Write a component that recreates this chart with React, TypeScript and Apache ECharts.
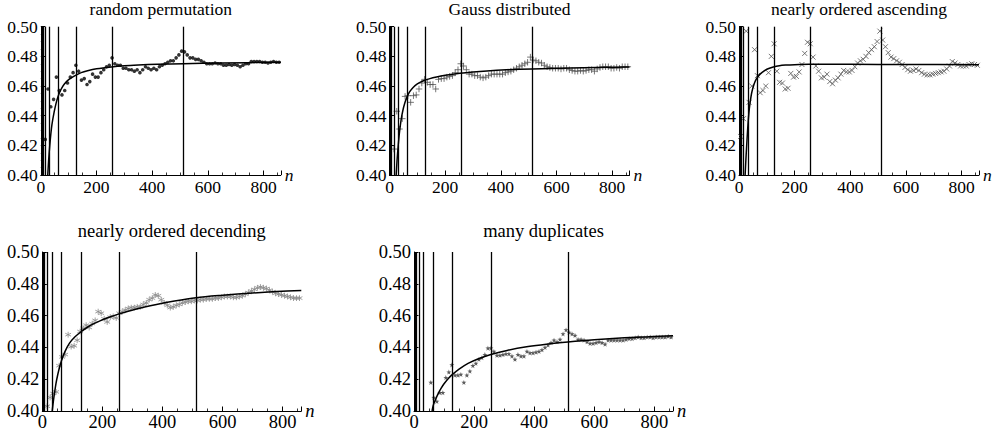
import React, { useEffect, useRef } from "react";
import * as echarts from "echarts";

// sample sizes n at which each sort was measured
const sampleN = [
  6, 16, 26, 36, 46, 56, 66, 76, 86, 96, 106, 116, 126, 136, 146, 156, 166, 176, 186, 196,
  206, 216, 226, 236, 246, 256, 266, 276, 286, 296, 306, 316, 326, 336, 346, 356, 366, 376, 386, 396,
  406, 416, 426, 436, 446, 456, 466, 476, 486, 496, 506, 516, 526, 536, 546, 556, 566, 576, 586, 596,
  606, 616, 626, 636, 646, 656, 666, 676, 686, 696, 706, 716, 726, 736, 746, 756, 766, 776, 786, 796,
  806, 816, 826, 836, 846, 856,
];

const randomPermutation = [
  null, 0.424, 0.458, 0.446, 0.451, 0.466, 0.457, 0.454, 0.457, 0.462,
  0.466, 0.469, 0.474, 0.47, 0.464, 0.465, 0.461, 0.463, 0.468, 0.466,
  0.466, 0.469, 0.471, 0.473, 0.474, 0.479, 0.475, 0.474, 0.474, 0.472,
  0.472, 0.471, 0.471, 0.47, 0.471, 0.469, 0.471, 0.473, 0.472, 0.471,
  0.472, 0.471, 0.473, 0.474, 0.475, 0.476, 0.477, 0.477, 0.479, 0.481,
  0.4835, 0.483, 0.481, 0.479, 0.479, 0.478, 0.478, 0.477, 0.476, 0.475,
  0.475, 0.475, 0.4755, 0.475, 0.475, 0.474, 0.474, 0.4745, 0.474, 0.4745,
  0.474, 0.473, 0.474, 0.475, 0.475, 0.4765, 0.4765, 0.4765, 0.4765, 0.476,
  0.476, 0.4755, 0.476, 0.4765, 0.476, 0.476,
];

const gaussDistributed = [
  null, 0.4175, 0.443, 0.431, 0.438, 0.453, 0.4535, 0.449, 0.4535, 0.454,
  0.458, 0.462, 0.4645, 0.4625, 0.461, 0.461, 0.458, 0.4645, 0.465, 0.465,
  0.466, 0.4665, 0.467, 0.469, 0.471, 0.475, 0.4735, 0.471, 0.468, 0.468,
  0.467, 0.467, 0.466, 0.4655, 0.466, 0.467, 0.468, 0.468, 0.468, 0.468,
  0.468, 0.469, 0.4695, 0.47, 0.471, 0.472, 0.473, 0.474, 0.475, 0.476,
  0.4795, 0.4775, 0.477, 0.476, 0.4755, 0.474, 0.473, 0.4725, 0.472, 0.472,
  0.472, 0.4715, 0.472, 0.472, 0.471, 0.4705, 0.47, 0.47, 0.4705, 0.47,
  0.4705, 0.471, 0.471, 0.47, 0.4715, 0.4725, 0.473, 0.473, 0.473, 0.472,
  0.472, 0.4725, 0.472, 0.473, 0.473, 0.473,
];

const nearlyAscending = [
  0.426, 0.438, 0.497, 0.449, 0.46, 0.4845, 0.467, 0.4555, 0.457, 0.46,
  0.469, 0.48, 0.4885, 0.47, 0.4625, 0.462, 0.458, 0.4585, 0.4685, 0.466,
  0.4665, 0.4695, 0.4745, 0.482, 0.4895, 0.4885, 0.4795, 0.4735, 0.47, 0.4655,
  0.466, 0.468, 0.463, 0.4615, 0.464, 0.4655, 0.468, 0.4705, 0.4695, 0.4695,
  0.4705, 0.473, 0.4755, 0.477, 0.478, 0.48, 0.4825, 0.4845, 0.4865, 0.49,
  0.497, 0.491, 0.4865, 0.4825, 0.4795, 0.4785, 0.477, 0.476, 0.4745, 0.4725,
  0.471, 0.47, 0.4705, 0.4715, 0.4705, 0.469, 0.468, 0.4675, 0.4675, 0.468,
  0.4685, 0.469, 0.4695, 0.47, 0.4715, 0.4735, 0.4765, 0.4755, 0.4745, 0.4735,
  0.4735, 0.4735, 0.4745, 0.475, 0.4745, 0.474,
];

const nearlyDescending = [
  null, 0.403, 0.4085, 0.411, 0.412, 0.4285, 0.434, 0.4355, 0.448, 0.4405,
  0.441, 0.4445, 0.45, 0.452, 0.454, 0.4525, 0.455, 0.457, 0.4625, 0.4615,
  0.458, 0.456, 0.459, 0.4595, 0.4585, 0.4615, 0.4625, 0.4635, 0.4645, 0.465,
  0.465, 0.4655, 0.4655, 0.467, 0.468, 0.47, 0.471, 0.473, 0.4725, 0.47,
  0.468, 0.4665, 0.465, 0.4655, 0.4665, 0.467, 0.468, 0.4685, 0.469, 0.469,
  0.4695, 0.4695, 0.47, 0.47, 0.4705, 0.4705, 0.4705, 0.471, 0.471, 0.4715,
  0.472, 0.472, 0.472, 0.4715, 0.4715, 0.472, 0.4725, 0.4735, 0.4745, 0.4755,
  0.4765, 0.4775, 0.478, 0.4775, 0.477, 0.476, 0.475, 0.474, 0.4735, 0.473,
  0.4725, 0.472, 0.4715, 0.471, 0.471, 0.471,
];

const manyDuplicates = [
  null, null, null, null, null, 0.418, 0.4085, 0.406, 0.4115, 0.4115,
  0.421, 0.4245, 0.429, 0.4225, 0.4225, 0.423, 0.418, 0.4225, 0.425, 0.4285,
  0.43, 0.4325, 0.4335, 0.4355, 0.4395, 0.4395, 0.4375, 0.435, 0.435, 0.4355,
  0.436, 0.436, 0.4345, 0.4325, 0.4355, 0.4345, 0.4345, 0.4375, 0.4365, 0.4365,
  0.437, 0.4375, 0.4385, 0.44, 0.4415, 0.443, 0.4445, 0.4435, 0.445, 0.4485,
  0.451, 0.4495, 0.4485, 0.4475, 0.445, 0.445, 0.4445, 0.4435, 0.4425, 0.4425,
  0.443, 0.4435, 0.443, 0.442, 0.4445, 0.4445, 0.4445, 0.4445, 0.4445, 0.4445,
  0.445, 0.4455, 0.4455, 0.446, 0.4465, 0.446, 0.446, 0.4465, 0.4465, 0.446,
  0.4465, 0.4465, 0.4465, 0.4465, 0.447, 0.4465,
];

// fitted curves
const fitRandomN = [25, 28, 32, 36, 40, 48, 55, 62, 72, 84, 100, 125, 145, 168, 200, 253, 300, 350, 420, 512, 650, 862];
const fitRandomV = [0.4, 0.4095, 0.4195, 0.4275, 0.434, 0.4425, 0.4485, 0.453, 0.4575, 0.4612, 0.4643, 0.4672, 0.469, 0.4703, 0.4716, 0.4729, 0.4737, 0.4742, 0.4747, 0.4751, 0.4755, 0.476];
const fitGaussN = [24, 27, 30, 33, 36, 42, 48, 55, 62, 72, 84, 100, 120, 145, 169, 200, 253, 300, 350, 420, 512, 650, 862];
const fitGaussV = [0.4, 0.4095, 0.417, 0.4235, 0.429, 0.4375, 0.4435, 0.4485, 0.4522, 0.456, 0.4589, 0.4614, 0.4634, 0.465, 0.4661, 0.4672, 0.4686, 0.4695, 0.4702, 0.4709, 0.4715, 0.4722, 0.4728];
const fitAscN = [22, 24.5, 27, 30.5, 34, 37, 40, 46, 54, 61, 70, 82, 100, 123, 145, 167, 200, 252, 400, 600, 862];
const fitAscV = [0.4, 0.4095, 0.418, 0.4292, 0.4385, 0.4445, 0.449, 0.4558, 0.4612, 0.4643, 0.4668, 0.469, 0.4713, 0.4728, 0.4737, 0.4741, 0.4744, 0.4746, 0.4746, 0.4745, 0.4744];
const fitDescN = [33, 36, 40, 44, 48, 55, 64, 75, 90, 108, 128, 155, 190, 220, 256, 310, 380, 440, 512, 600, 700, 780, 862];
const fitDescV = [0.4, 0.405, 0.4105, 0.4155, 0.4198, 0.4258, 0.4318, 0.4372, 0.4425, 0.4465, 0.4497, 0.4533, 0.4565, 0.4588, 0.4611, 0.464, 0.467, 0.4692, 0.4713, 0.4728, 0.4742, 0.4751, 0.4758];
const fitDupN = [60, 64, 70, 80, 90, 100, 115, 128, 150, 180, 215, 256, 310, 380, 440, 512, 600, 700, 780, 862];
const fitDupV = [0.4, 0.4035, 0.4065, 0.4108, 0.4142, 0.4171, 0.4206, 0.423, 0.4264, 0.43, 0.4329, 0.4355, 0.4381, 0.4405, 0.442, 0.4434, 0.4448, 0.446, 0.4467, 0.4474];

// vertical reference lines at powers of two
const powerLines = [4, 8, 16, 32, 64, 128, 256, 512];

const titles = [
  "random permutation",
  "Gauss distributed",
  "nearly ordered ascending",
  "nearly ordered decending",
  "many duplicates",
];

const X_MIN = 0;
const X_MAX = 862;
const X_STEP = 200;
const Y_MIN = 0.4;
const Y_MAX = 0.5;
const Y_STEP = 0.02;

const FONT = "Liberation Serif, DejaVu Serif, serif";

const ROW1 = { top: 26.7, height: 148.3, width: 240, font: 17.5, titleY: 8.9 };
const ROW2 = { top: 252, height: 159, width: 259, font: 18.5, titleY: 230.5 };

const MARKERS: Record<string, any> = {
  dot: { symbol: "circle", symbolSize: 3.6, itemStyle: { color: "#000" } },
  plus: {
    symbol: "path://M0,5L10,5M5,0L5,10",
    symbolSize: 6.5,
    itemStyle: { color: "transparent", borderColor: "#555", borderWidth: 1 },
  },
  cross: {
    symbol: "path://M0,0L10,10M10,0L0,10",
    symbolSize: 5,
    itemStyle: { color: "transparent", borderColor: "#555", borderWidth: 1 },
  },
  aster: {
    symbol: "path://M5,0L5,10M0.67,2.5L9.33,7.5M0.67,7.5L9.33,2.5",
    symbolSize: 5.8,
    itemStyle: { color: "transparent", borderColor: "#8a8a8a", borderWidth: 1 },
  },
  star: {
    symbol:
      "path://M5,0L6.18,3.38L9.76,3.45L6.9,5.62L7.94,9.05L5,7L2.06,9.05L3.1,5.62L0.24,3.45L3.82,3.38Z",
    symbolSize: 5,
    itemStyle: { color: "#333" },
  },
};

const panels = [
  { left: 40.8, row: ROW1, values: randomPermutation, fitN: fitRandomN, fitV: fitRandomV, marker: "dot" },
  { left: 389.5, row: ROW1, values: gaussDistributed, fitN: fitGaussN, fitV: fitGaussV, marker: "plus" },
  { left: 739, row: ROW1, values: nearlyAscending, fitN: fitAscN, fitV: fitAscV, marker: "cross" },
  { left: 42.3, row: ROW2, values: nearlyDescending, fitN: fitDescN, fitV: fitDescV, marker: "aster" },
  { left: 414, row: ROW2, values: manyDuplicates, fitN: fitDupN, fitV: fitDupV, marker: "star" },
];

function buildOption() {
  const grid: any[] = [];
  const xAxis: any[] = [];
  const yAxis: any[] = [];
  const series: any[] = [];
  const graphic: any[] = [];

  panels.forEach((p, i) => {
    const r = p.row;
    grid.push({ left: p.left, top: r.top, width: r.width, height: r.height, outerBoundsMode: "none" });
    const axisLine = { show: true, onZero: false, lineStyle: { color: "#000", width: 1 } };
    xAxis.push({
      type: "value",
      gridIndex: i,
      min: X_MIN,
      max: X_MAX,
      interval: X_STEP,
      name: "n",
      nameLocation: "end",
      nameGap: 4,
      nameTextStyle: {
        fontStyle: "italic",
        fontFamily: FONT,
        fontSize: r.font,
        color: "#000",
        padding: [4, 0, 0, 0],
      },
      axisLine,
      axisTick: { show: true, inside: true, length: 4.5, lineStyle: { color: "#000", width: 1 } },
      minorTick: { show: true, splitNumber: 4, length: 2.5, lineStyle: { color: "#000", width: 0.8 } },
      splitLine: { show: false },
      minorSplitLine: { show: false },
      axisLabel: {
        color: "#000",
        fontFamily: FONT,
        fontSize: r.font,
        margin: i < 3 ? 3 : 1,
        formatter: (v: number) => (v % X_STEP === 0 ? String(v) : ""),
      },
    });
    yAxis.push({
      type: "value",
      gridIndex: i,
      min: Y_MIN,
      max: Y_MAX,
      interval: Y_STEP,
      axisLine,
      axisTick: { show: true, inside: true, length: 4.5, lineStyle: { color: "#000", width: 1 } },
      minorTick: { show: true, splitNumber: 4, length: 2.5, lineStyle: { color: "#000", width: 0.8 } },
      splitLine: { show: false },
      minorSplitLine: { show: false },
      axisLabel: {
        color: "#000",
        fontFamily: FONT,
        fontSize: r.font,
        margin: 3,
        formatter: (v: number) => v.toFixed(2),
      },
    });

    const pts: [number, number][] = [];
    p.values.forEach((v, k) => {
      if (v !== null && v !== undefined) pts.push([sampleN[k], v as number]);
    });
    const m = MARKERS[p.marker];
    series.push({
      type: "scatter",
      xAxisIndex: i,
      yAxisIndex: i,
      data: pts,
      symbol: m.symbol,
      symbolSize: m.symbolSize,
      itemStyle: m.itemStyle,
      silent: true,
      clip: true,
      z: 2,
    });
    series.push({
      type: "line",
      xAxisIndex: i,
      yAxisIndex: i,
      data: p.fitN.map((n, k) => [n, p.fitV[k]]),
      smooth: 0.3,
      showSymbol: false,
      symbol: "none",
      clip: true,
      silent: true,
      lineStyle: { color: "#000", width: 1.5 },
      z: 3,
      markLine: {
        silent: true,
        symbol: ["none", "none"],
        label: { show: false },
        lineStyle: { color: "#000", width: 1.3, type: "solid" },
        emphasis: { disabled: true },
        data: powerLines.map((v) => ({ xAxis: v })),
      },
    });
    graphic.push({
      type: "text",
      x: p.left + r.width / 2,
      y: r.titleY,
      silent: true,
      style: {
        text: titles[i],
        fill: "#000",
        font: `${r.font}px ${FONT}`,
        align: "center",
        textAlign: "center",
        verticalAlign: "middle",
        textVerticalAlign: "middle",
      },
    });
  });

  return {
    animation: false,
    backgroundColor: "#fff",
    grid,
    xAxis,
    yAxis,
    series,
    graphic,
  };
}

export default function App() {
  const ref = useRef<HTMLDivElement>(null);
  useEffect(() => {
    if (!ref.current) return;
    const chart = echarts.init(ref.current, null, { renderer: "svg" });
    chart.setOption(buildOption() as any);
    return () => chart.dispose();
  }, []);
  return (
    <div
      ref={ref}
      style={{ position: "fixed", left: 0, top: 0, width: 993, height: 437, background: "#fff" }}
    />
  );
}
